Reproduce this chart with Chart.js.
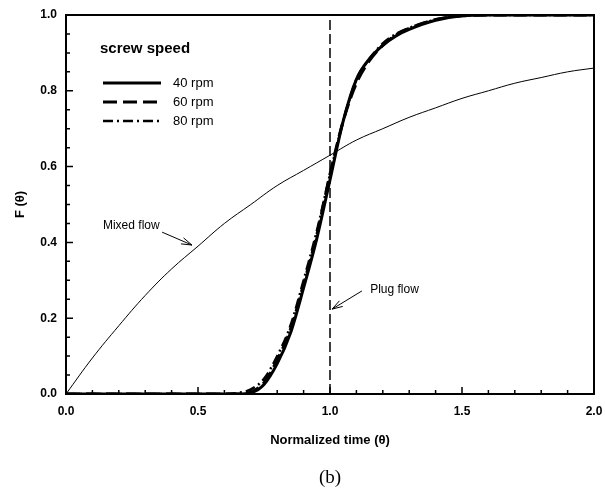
<!DOCTYPE html>
<html>
<head>
<meta charset="utf-8">
<script src="https://cdn.jsdelivr.net/npm/chart.js@4"></script>
<style>
  html, body { margin: 0; padding: 0; background: #fff; }
  #wrap { width: 605px; height: 494px; }
</style>
</head>
<body>
<div id="wrap"><canvas id="myChart" width="605" height="494"></canvas></div>
<script>
// values
const THETA_S = [0, 0.6, 0.65, 0.7, 0.75, 0.8, 0.85, 0.9, 0.95, 1.0, 1.05, 1.1, 1.15, 1.2, 1.25, 1.3, 1.4, 1.5, 1.6, 2.0];
const RPM_40 = [0, 0, 0, 0.003, 0.025, 0.08, 0.16, 0.28, 0.41, 0.565, 0.72, 0.83, 0.885, 0.92, 0.945, 0.962, 0.986, 0.998, 1.0, 1.0];
const RPM_60 = [0, 0, 0, 0.005, 0.03, 0.09, 0.17, 0.29, 0.42, 0.58, 0.72, 0.82, 0.88, 0.92, 0.948, 0.965, 0.988, 0.998, 1.0, 1.0];
const RPM_80 = [0, 0, 0.003, 0.012, 0.04, 0.1, 0.18, 0.3, 0.43, 0.58, 0.72, 0.83, 0.885, 0.925, 0.95, 0.966, 0.988, 0.998, 1.0, 1.0];

const THETA_MIX = [0, 0.1, 0.2, 0.3, 0.4, 0.5, 0.6, 0.7, 0.8, 0.9, 1.0, 1.1, 1.2, 1.3, 1.4, 1.5, 1.6, 1.7, 1.8, 1.9, 2.0];
const MIXED = [0, 0.095, 0.18, 0.26, 0.33, 0.39, 0.45, 0.5, 0.55, 0.59, 0.63, 0.67, 0.7, 0.73, 0.755, 0.78, 0.8, 0.82, 0.835, 0.85, 0.86];

const PLUG_X = [1.0, 1.0];
const PLUG_Y = [0, 1.0];

const SERIES_NAMES = ['40 rpm', '60 rpm', '80 rpm'];
const X_TICKS = [0, 0.5, 1.0, 1.5, 2.0];
const Y_TICKS = [0, 0.2, 0.4, 0.6, 0.8, 1.0];

const FONT = "'Liberation Sans', Arial, sans-serif";

const toPoints = (xs, ys) => xs.map((x, i) => ({ x, y: ys[i] }));

const curveStyle = (label, data, dash, width) => ({
  label,
  data,
  borderColor: '#000',
  borderWidth: width,
  borderDash: dash,
  pointRadius: 0,
  fill: false,
  cubicInterpolationMode: 'monotone',
});

// ticks, frame, legend and notes
const decorations = {
  id: 'decorations',
  afterDatasetsDraw(chart) {
    const { ctx, chartArea: a, scales: { x, y } } = chart;
    ctx.save();
    ctx.strokeStyle = '#000';
    ctx.fillStyle = '#000';

    // frame
    ctx.lineWidth = 2;
    ctx.strokeRect(a.left, a.top, a.right - a.left, a.bottom - a.top);

    // inward ticks
    ctx.lineWidth = 1.5;
    ctx.beginPath();
    for (let i = 0; i <= 20; i++) {
      const px = x.getPixelForValue(i * 0.1);
      const len = i % 5 === 0 ? 7 : 4;
      ctx.moveTo(px, a.bottom);
      ctx.lineTo(px, a.bottom - len);
    }
    for (let i = 0; i <= 20; i++) {
      const py = y.getPixelForValue(i * 0.05);
      const len = i % 4 === 0 ? 7 : 4;
      ctx.moveTo(a.left, py);
      ctx.lineTo(a.left + len, py);
    }
    ctx.stroke();

    // legend
    ctx.font = 'bold 15px ' + FONT;
    ctx.textBaseline = 'middle';
    ctx.textAlign = 'left';
    ctx.fillText('screw speed', a.left + 34, a.top + 34);
    ctx.font = '13px ' + FONT;
    chart.data.datasets.slice(0, 3).forEach((ds, i) => {
      const ly = a.top + 68 + i * 19;
      ctx.beginPath();
      ctx.setLineDash(ds.borderDash);
      ctx.lineWidth = ds.borderWidth;
      ctx.moveTo(a.left + 37, ly);
      ctx.lineTo(a.left + 95, ly);
      ctx.stroke();
      ctx.setLineDash([]);
      ctx.fillText(ds.label, a.left + 107, ly);
    });

    // notes with arrows
    const arrow = (x0, y0, x1, y1) => {
      const p0 = [x.getPixelForValue(x0), y.getPixelForValue(y0)];
      const p1 = [x.getPixelForValue(x1), y.getPixelForValue(y1)];
      const ang = Math.atan2(p1[1] - p0[1], p1[0] - p0[0]);
      ctx.lineWidth = 1;
      ctx.beginPath();
      ctx.moveTo(p0[0], p0[1]);
      ctx.lineTo(p1[0], p1[1]);
      ctx.moveTo(p1[0] - 11 * Math.cos(ang - 0.3), p1[1] - 11 * Math.sin(ang - 0.3));
      ctx.lineTo(p1[0], p1[1]);
      ctx.lineTo(p1[0] - 11 * Math.cos(ang + 0.3), p1[1] - 11 * Math.sin(ang + 0.3));
      ctx.stroke();
    };
    ctx.font = '12px ' + FONT;
    ctx.fillText('Mixed flow', x.getPixelForValue(0.14), y.getPixelForValue(0.445));
    arrow(0.364, 0.427, 0.477, 0.393);
    ctx.fillText('Plug flow', x.getPixelForValue(1.152), y.getPixelForValue(0.274));
    arrow(1.121, 0.272, 1.008, 0.224);

    // figure tag
    ctx.font = '19px "Liberation Serif", "Times New Roman", serif';
    ctx.textAlign = 'center';
    ctx.fillText('(b)', x.getPixelForValue(1.0), 478);
    ctx.restore();
  },
};

const ctx = document.getElementById('myChart').getContext('2d');
new Chart(ctx, {
  type: 'line',
  data: {
    datasets: [
      curveStyle(SERIES_NAMES[0], toPoints(THETA_S, RPM_40), [], 3),
      curveStyle(SERIES_NAMES[1], toPoints(THETA_S, RPM_60), [14, 6], 3),
      curveStyle(SERIES_NAMES[2], toPoints(THETA_S, RPM_80), [10, 4, 2, 4], 2.5),
      {
        label: 'Mixed flow',
        data: toPoints(THETA_MIX, MIXED),
        borderColor: '#000',
        borderWidth: 1,
        pointRadius: 0,
        tension: 0.4,
      },
      {
        label: 'Plug flow',
        data: toPoints(PLUG_X, PLUG_Y),
        borderColor: '#000',
        borderWidth: 1.5,
        borderDash: [10, 4],
        pointRadius: 0,
      },
    ],
  },
  options: {
    responsive: false,
    animation: false,
    layout: { padding: { top: 15, right: 11, left: 0, bottom: 0 } },
    plugins: { legend: { display: false }, tooltip: { enabled: false } },
    scales: {
      x: {
        type: 'linear',
        min: 0,
        max: 2,
        afterFit: (s) => { s.height = 100; s.paddingLeft = 0; s.paddingRight = 0; },
        afterBuildTicks: (s) => { s.ticks = X_TICKS.map(v => ({ value: v })); },
        ticks: {
          callback: v => v.toFixed(1),
          font: { family: FONT, size: 12, weight: 'bold' },
          color: '#000',
          padding: 10,
          maxRotation: 0,
        },
        grid: { display: false, drawTicks: false },
        border: { display: false },
        title: {
          display: true,
          text: 'Normalized time (θ)',
          font: { family: FONT, size: 13, weight: 'bold' },
          color: '#000',
          padding: { top: 0, bottom: 46 },
        },
      },
      y: {
        min: 0,
        max: 1,
        afterFit: (s) => { s.width = 66; s.paddingTop = 0; s.paddingBottom = 0; },
        afterBuildTicks: (s) => { s.ticks = Y_TICKS.map(v => ({ value: v })); },
        ticks: {
          callback: v => v.toFixed(1),
          font: { family: FONT, size: 12, weight: 'bold' },
          color: '#000',
          padding: 9,
        },
        grid: { display: false, drawTicks: false },
        border: { display: false },
        title: {
          display: true,
          text: 'F (θ)',
          font: { family: FONT, size: 13, weight: 'bold' },
          color: '#000',
          padding: { top: 13, bottom: 0 },
        },
      },
    },
  },
  plugins: [decorations],
});
</script>
</body>
</html>
